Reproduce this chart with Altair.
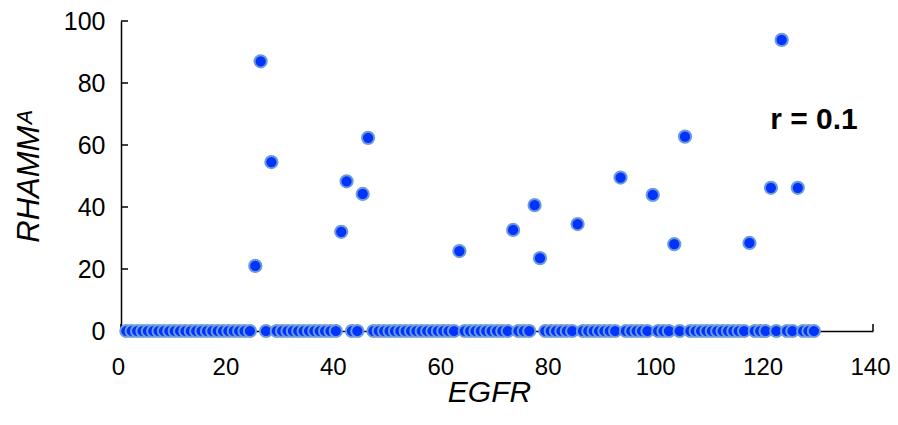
import altair as alt
import pandas as pd

# EGFR values (x) for each sample
egfr = [
    1, 2, 3, 4, 5, 6, 7, 8, 9, 10,
    11, 12, 13, 14, 15, 16, 17, 18, 19, 20,
    21, 22, 23, 24, 25, 26, 27, 28, 29, 30,
    31, 32, 33, 34, 35, 36, 37, 38, 39, 40,
    41, 42, 43, 44, 45, 46, 47, 48, 49, 50,
    51, 52, 53, 54, 55, 56, 57, 58, 59, 60,
    61, 62, 63, 64, 65, 66, 67, 68, 69, 70,
    71, 72, 73, 74, 75, 76, 77, 78, 79, 80,
    81, 82, 83, 84, 85, 86, 87, 88, 89, 90,
    91, 92, 93, 94, 95, 96, 97, 98, 99, 100,
    101, 102, 103, 104, 105, 106, 107, 108, 109, 110,
    111, 112, 113, 114, 115, 116, 117, 118, 119, 120,
    121, 122, 123, 124, 125, 126, 127, 128, 129,
]

# RHAMM^A values (y) for each sample
rhamm = [
    0, 0, 0, 0, 0, 0, 0, 0, 0, 0,
    0, 0, 0, 0, 0, 0, 0, 0, 0, 0,
    0, 0, 0, 0, 21.0, 87.0, 0, 54.5, 0, 0,
    0, 0, 0, 0, 0, 0, 0, 0, 0, 0,
    32.0, 48.3, 0, 0, 44.2, 62.3, 0, 0, 0, 0,
    0, 0, 0, 0, 0, 0, 0, 0, 0, 0,
    0, 0, 25.8, 0, 0, 0, 0, 0, 0, 0,
    0, 0, 32.6, 0, 0, 0, 40.6, 23.5, 0, 0,
    0, 0, 0, 0, 34.5, 0, 0, 0, 0, 0,
    0, 0, 49.5, 0, 0, 0, 0, 0, 43.9, 0,
    0, 0, 28.0, 0, 62.7, 0, 0, 0, 0, 0,
    0, 0, 0, 0, 0, 0, 28.4, 0, 0, 0,
    46.2, 0, 93.9, 0, 0, 46.2, 0, 0, 0,
]

x_ticks = [0, 20, 40, 60, 80, 100, 120, 140]
y_ticks = [0, 20, 40, 60, 80, 100]

annot_text = ["r = 0.1"]
annot_x = [129]
annot_y = [68]

FONT = "Liberation Sans"

df = pd.DataFrame({"EGFR": egfr, "RHAMM": rhamm})
xt = pd.DataFrame({"v": x_ticks})
yt = pd.DataFrame({"v": y_ticks})
ann = pd.DataFrame({"t": annot_text, "x": annot_x, "y": annot_y})

xscale = alt.Scale(domain=[0, 140], nice=False, zero=False)
yscale = alt.Scale(domain=[0, 100], nice=False)

points = alt.Chart(df).mark_circle(
    size=150, color="#0033ff", opacity=1, stroke="#6d9bd8", strokeWidth=2
).encode(
    x=alt.X(
        "EGFR:Q",
        scale=xscale,
        axis=alt.Axis(
            values=x_ticks,
            title="EGFR",
            titleFontStyle="italic",
            titleFontWeight="normal",
            titleFontSize=30,
            titleFont=FONT,
            titleColor="black",
            titlePadding=-2,
            titleX=368,
            labelFont=FONT,
            labelFontSize=24,
            labelColor="black",
            labelPadding=24,
            labelOffset=-3,
            labelFlush=False,
            labelOverlap=False,
            ticks=False,
            grid=False,
            domainColor="black",
            domainWidth=1.5,
        ),
    ),
    y=alt.Y(
        "RHAMM:Q",
        scale=yscale,
        axis=alt.Axis(
            values=y_ticks,
            title="RHAMMᴬ",
            titleFontStyle="italic",
            titleFontWeight="normal",
            titleFontSize=31,
            titleFont=FONT,
            titleColor="black",
            titlePadding=18,
            labelFont=FONT,
            labelFontSize=25,
            labelColor="black",
            labelPadding=16,
            labelFlush=False,
            labelOverlap=False,
            ticks=False,
            grid=False,
            domainColor="black",
            domainWidth=1.5,
        ),
    ),
)

yticks_layer = alt.Chart(yt).mark_rule(color="black", strokeWidth=1.5).encode(
    y=alt.Y("v:Q", scale=yscale),
    x=alt.value(0),
    x2=alt.value(7),
)

xticks_layer = alt.Chart(xt).mark_rule(color="black", strokeWidth=1.5).encode(
    x=alt.X("v:Q", scale=xscale),
    y=alt.value(310),
    y2=alt.value(303),
)

text_layer = alt.Chart(ann).mark_text(
    font=FONT, fontSize=30, fontWeight="bold", color="black", align="center", baseline="middle"
).encode(
    x=alt.X("x:Q", scale=xscale),
    y=alt.Y("y:Q", scale=yscale),
    text="t:N",
)

chart = alt.layer(yticks_layer, xticks_layer, points, text_layer).properties(
    width=752,
    height=310,
    autosize=alt.AutoSizeParams(type="none"),
    padding={"left": 113, "top": 13, "right": 17, "bottom": 86},
).configure_view(stroke=None)

chart.save("out.html", embed_options={"renderer": "svg", "actions": False})
